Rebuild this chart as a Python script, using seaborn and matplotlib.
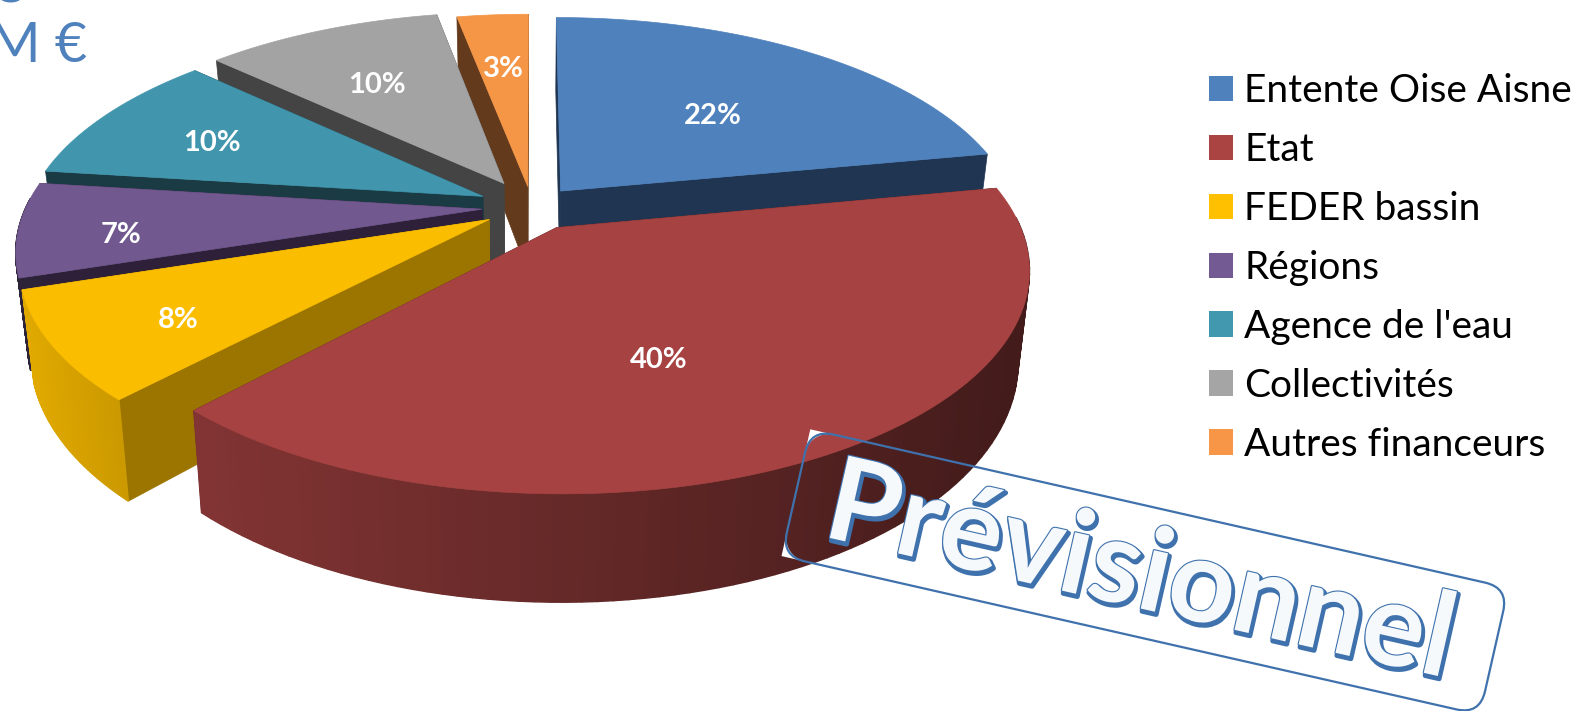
#!/usr/bin/env python3

'''exploded 3d looking pie, drawn from the shares through a perspective projection'''

import numpy as np
import matplotlib
matplotlib.use('Agg')
import matplotlib.pyplot as plt
import matplotlib.patheffects as pe
from matplotlib.patches import FancyBboxPatch, Patch
from matplotlib.transforms import Affine2D
import seaborn as sns

# data
financeurs = ['Entente Oise Aisne', 'Etat', 'FEDER bassin', 'Régions',
              "Agence de l'eau", 'Collectivités', 'Autres financeurs']
parts = [22, 40, 8, 7, 10, 10, 3]

# styles
top_cols = ['#4f81bd', '#a64342', '#fbbd00', '#71588f', '#4196ad', '#a3a3a3', '#f59646']
leg_cols = ['#4f81bd', '#a94442', '#ffc000', '#735a93', '#4198af', '#a5a5a5', '#f79646']
wall_cols = ['#1f3552', '#401a18', '#9c7500', '#2d2038', '#1a3a44', '#444444', '#633a1c']
explode = [0.10, 0.11, 0.11, 0.11, 0.12, 0.13, 0.10]
lab_r = [0.54, 0.58, 0.75, 0.78, 0.69, 0.62, 0.65]      # label radius
lab_da = [-3.3, -9.5, 2.7, 3.3, 1.9, 2, 0]              # label shift from mid angle
draw_order = [0, 6, 5, 4, 3, 2, 1]                      # far slices first

# projection of the pie plane onto the picture
CX, CY, AX, AY, PERSP, THICK, SHRINK = 532, 207, 456, 210, 0.18, 87, 0.023


def project(x, y):
    w = 1 + PERSP * y
    return CX + AX * x / w, CY - AY * y / w


def project_low(x, y):
    sx, sy = project(x, y)
    return CX + (sx - CX) * (1 - SHRINK), sy + THICK / (1 + PERSP * y)


def shade(col, f):
    return tuple(np.array(matplotlib.colors.to_rgb(col)) * f)


sns.set_theme(style='white')
plt.rcParams['font.family'] = ['Lato', 'DejaVu Sans']

fig = plt.figure(figsize=(15.76, 7.11), dpi=100)
ax = fig.add_axes([0, 0, 1, 1])
ax.set_xlim(0, 1576)
ax.set_ylim(711, 0)
ax.axis('off')

shares = np.array(parts) / sum(parts) * 360
ends = 90 - np.cumsum(shares)
starts = ends + shares

for i in draw_order:
    mid = np.radians((starts[i] + ends[i]) / 2)
    ox, oy = explode[i] * np.cos(mid), explode[i] * np.sin(mid)
    t = np.radians(np.linspace(starts[i], ends[i], 90))
    ax_x, ax_y = ox + np.cos(t), oy + np.sin(t)
    tx, ty = project(ax_x, ax_y)
    lx, ly = project_low(ax_x, ax_y)
    apx, apy = project(ox, oy)
    alx, aly = project_low(ox, oy)

    # radial walls
    for j in (0, -1):
        ax.fill([apx, tx[j], lx[j], alx], [apy, ty[j], ly[j], aly],
                color=wall_cols[i], lw=0.5, zorder=2)
    # outer wall, only the part facing us, darker going to the right
    for j in range(len(t) - 1):
        if np.sin(t[j]) > 0.05:
            continue
        f = np.interp(tx[j], [100, 1030], [0.83, 0.40])
        if i == 2:
            f = np.interp(tx[j], [20, 130], [0.90, 0.80])
        if i == 3:
            f = 0.40
        ax.fill([tx[j], tx[j + 1], lx[j + 1], lx[j]], [ty[j], ty[j + 1], ly[j + 1], ly[j]],
                color=shade(top_cols[i], f), lw=1, zorder=2)
    # top face
    ax.fill(np.r_[apx, tx], np.r_[apy, ty], color=top_cols[i], lw=0.5, zorder=2)

    # share label
    a = mid + np.radians(lab_da[i])
    sx, sy = project(ox + lab_r[i] * np.cos(a), oy + lab_r[i] * np.sin(a))
    ax.text(sx, sy, f'{parts[i]}%', color='white', fontsize=21, fontweight='bold',
            ha='center', va='center', zorder=3)

# legend
handles = [Patch(facecolor=c, edgecolor='none', label=n) for c, n in zip(leg_cols, financeurs)]
ax.legend(handles=handles, loc='upper left', bbox_to_anchor=(1209, 73), bbox_transform=ax.transData,
          frameon=False, fontsize=28, handlelength=0.62, handleheight=0.62, handletextpad=0.29,
          labelspacing=0.59, borderaxespad=0, borderpad=0, labelcolor='black')

# clipped heading of the slide behind the chart
ax.text(-11, 62, 'M €', color='#4f81bd', fontsize=40, ha='left', va='baseline', zorder=3)
ax.text(-4, -9, 'g', color='#4f81bd', fontsize=40, ha='left', va='baseline', zorder=3)

# rubber stamp
stamp_col = '#3f72ad'
bx, by, bw, bh, ang, rnd = 1145, 572, 716, 130, 12.8, 24
rot = Affine2D().rotate_deg_around(bx, by, ang) + ax.transData
arc = np.radians(np.linspace(0, 90, 20))
x0 = bx - bw / 2
for y0, vs in ((by - bh / 2, 1), (by + bh / 2, -1)):
    # white left over outside the rounded corner
    ax.fill(np.r_[x0, x0 + rnd * (1 - np.cos(arc))],
            np.r_[y0, y0 + vs * rnd * (1 - np.sin(arc))],
            color='white', lw=0, transform=rot, zorder=4)
ax.add_patch(FancyBboxPatch((bx - bw / 2, by - bh / 2), bw, bh,
                            boxstyle=f'round,pad=0,rounding_size={rnd}', fc='none', ec=stamp_col,
                            lw=1.6, transform=rot, zorder=5))
ax.text(bx - 5, by + 2, 'Prévisionnel', color='#f6f9fc', fontsize=84, fontweight='bold',
        rotation=-ang, rotation_mode='anchor', ha='center', va='center', zorder=6,
        path_effects=[pe.Stroke(linewidth=3.5, foreground=stamp_col, offset=(1, -2)),
                      pe.Stroke(linewidth=1.6, foreground=stamp_col), pe.Normal()])

plt.savefig('out.png', dpi=100)
